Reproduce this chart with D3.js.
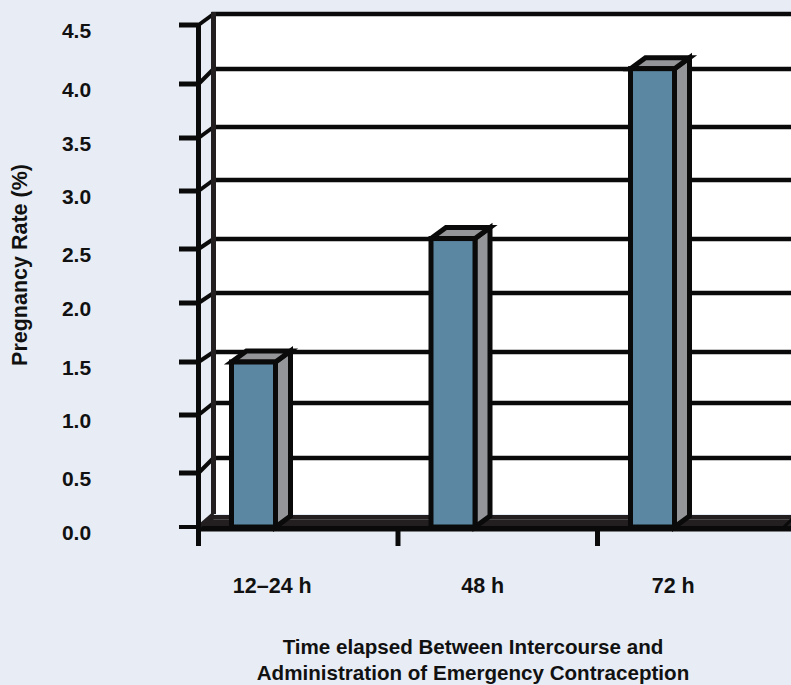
<!DOCTYPE html>
<html>
<head>
<meta charset="utf-8">
<script src="https://cdn.jsdelivr.net/npm/d3@7"></script>
<style>
html, body { margin: 0; padding: 0; background: #e8edf5; }
text { font-family: "Liberation Sans", Arial, sans-serif; font-weight: bold; fill: #111; }
</style>
</head>
<body>
<div id="chart"></div>
<script>
// ==========================
// Data
// ==========================
const categories = ["12–24 h", "48 h", "72 h"];
const pregnancyRates = [1.5, 2.59, 4.13];
const yTicks = [0, 0.5, 1, 1.5, 2, 2.5, 3, 3.5, 4, 4.5];
const yTitle = "Pregnancy Rate (%)";
const xTitleLines = ["Time elapsed Between Intercourse and", "Administration of Emergency Contraception"];

// ==========================
// Constants & Dimensions
// ==========================
const width = 791;
const height = 685;
const wallDx = 15;   // depth of the back wall
const barDx = 15;    // depth of each bar
const barDy = -11;
const black = "#0a0a0a";
const wallDark = "#231f20";

const svg = d3.select("#chart")
    .append("svg")
    .attr("width", width)
    .attr("height", height)
    .style("display", "block");

// The picture's ticks are not evenly spaced, so both scales are piecewise
const y = d3.scaleLinear().domain(yTicks).range([527, 473, 415, 362, 303, 249, 191, 138, 84, 25]);
const yBack = d3.scaleLinear().domain(yTicks).range([514, 458, 403, 352, 293, 239, 180, 127, 69, 14]);
const x = d3.scaleBand().domain(categories).range([198.5, 797]);

const axisX = x.range()[0];
const wallX = axisX + wallDx;
const barOffset = 33;
const barWidth = 44;
const labelShift = [-26, -15, -24];

// ==========================
// Back wall and floor
// ==========================
svg.append("rect")
    .attr("x", wallX)
    .attr("y", yBack(4.5))
    .attr("width", width)
    .attr("height", yBack(0) - yBack(4.5))
    .attr("fill", "#fff");

svg.append("path")
    .attr("d", `M${axisX},${y(0)}L${wallX},${yBack(0) + 1}H${width + 10}V${y(0)}Z`)
    .attr("fill", wallDark);

svg.append("line")
    .attr("x1", wallX)
    .attr("x2", width)
    .attr("y1", 519.5)
    .attr("y2", 519.5)
    .attr("stroke", "#4a4748")
    .attr("stroke-width", 1);

svg.append("rect")
    .attr("x", axisX)
    .attr("y", y(0) - 1)
    .attr("width", width)
    .attr("height", 5.5)
    .attr("fill", black);

svg.append("line")
    .attr("x1", 784)
    .attr("x2", width + 2)
    .attr("y1", y(0))
    .attr("y2", 518)
    .attr("stroke", black)
    .attr("stroke-width", 3);

// Gridlines on the back wall, diagonals on the side wall, ticks on the axis
yTicks.filter(d => d > 0).forEach(d => {
    svg.append("line")
        .attr("x1", wallX - 2)
        .attr("x2", width)
        .attr("y1", yBack(d))
        .attr("y2", yBack(d))
        .attr("stroke", black)
        .attr("stroke-width", 4.5);
});

yTicks.forEach(d => {
    svg.append("line")
        .attr("x1", axisX)
        .attr("x2", wallX)
        .attr("y1", y(d))
        .attr("y2", yBack(d))
        .attr("stroke", d === 0 ? wallDark : black)
        .attr("stroke-width", 4);

    svg.append("line")
        .attr("x1", 179)
        .attr("x2", axisX)
        .attr("y1", y(d))
        .attr("y2", y(d))
        .attr("stroke", black)
        .attr("stroke-width", d === 0 ? 4 : 5);

    svg.append("text")
        .attr("x", 76.5)
        .attr("y", y(d) + 12.5)
        .attr("text-anchor", "middle")
        .attr("font-size", 21)
        .text(d3.format(".1f")(d));
});

// Vertical axis lines
svg.append("line")
    .attr("x1", wallX)
    .attr("x2", wallX)
    .attr("y1", yBack(4.5) - 2)
    .attr("y2", yBack(0))
    .attr("stroke", wallDark)
    .attr("stroke-width", 5);

svg.append("line")
    .attr("x1", axisX)
    .attr("x2", axisX)
    .attr("y1", y(4.5) - 1)
    .attr("y2", 546)
    .attr("stroke", black)
    .attr("stroke-width", 5);

// ==========================
// Bars
// ==========================
categories.forEach((c, i) => {
    const x0 = x(c) + barOffset;
    const x1 = x0 + barWidth;
    const top = y(pregnancyRates[i]);
    const bottom = y(0);
    const g = svg.append("g")
        .attr("stroke", black)
        .attr("stroke-width", 5)
        .attr("stroke-linejoin", "miter");

    // Side face
    g.append("path")
        .attr("d", `M${x1},${top}L${x1 + barDx},${top + barDy}V${bottom + barDy}L${x1},${bottom}Z`)
        .attr("fill", "#939598");

    // Top face
    g.append("path")
        .attr("d", `M${x0},${top}L${x0 + barDx},${top + barDy}H${x1 + barDx}L${x1},${top}Z`)
        .attr("fill", "#939598");

    // Front face
    g.append("rect")
        .attr("x", x0)
        .attr("y", top)
        .attr("width", barWidth)
        .attr("height", bottom - top)
        .attr("fill", "#5b87a2");

    // Tick between categories
    if (i > 0) {
        svg.append("line")
            .attr("x1", x(c))
            .attr("x2", x(c))
            .attr("y1", y(0))
            .attr("y2", 546)
            .attr("stroke", black)
            .attr("stroke-width", 5);
    }

    svg.append("text")
        .attr("x", x(c) + x.bandwidth() / 2 + labelShift[i])
        .attr("y", 592.5)
        .attr("text-anchor", "middle")
        .attr("font-size", 21.5)
        .text(c);
});

// ==========================
// Axis titles
// ==========================
svg.append("text")
    .attr("transform", "translate(27,265) rotate(-90)")
    .attr("text-anchor", "middle")
    .attr("font-size", 21.5)
    .text(yTitle);

xTitleLines.forEach((line, i) => {
    svg.append("text")
        .attr("x", 473)
        .attr("y", 654 + i * 26)
        .attr("text-anchor", "middle")
        .attr("font-size", 20.6)
        .text(line);
});
</script>
</body>
</html>
